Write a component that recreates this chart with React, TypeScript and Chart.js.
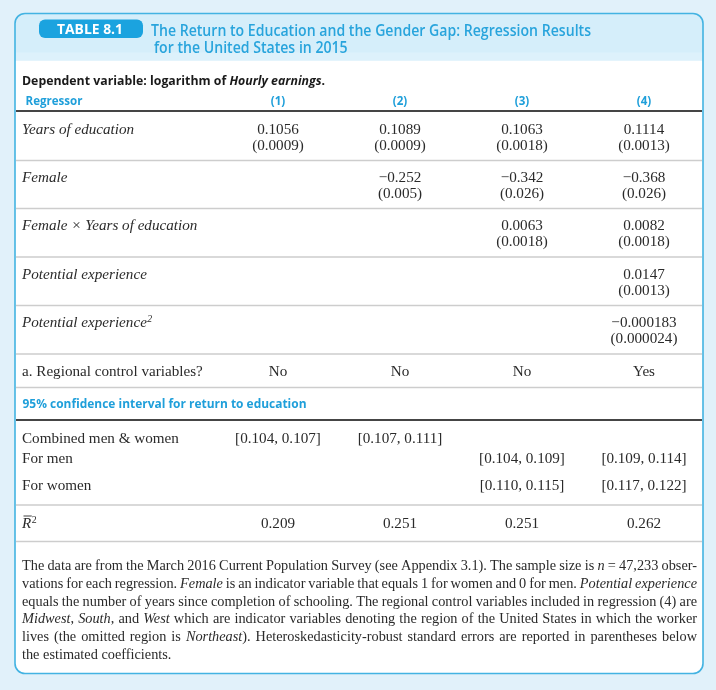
import { useEffect, useRef } from 'react';
import { Chart, registerables } from 'chart.js';

Chart.register(...registerables);

// ---------------- data ----------------
const tableNumber = 'TABLE 8.1';
const titleLines = [
  'The Return to Education and the Gender Gap: Regression Results',
  'for the United States in 2015',
];
const dependentPrefix = 'Dependent variable: logarithm of ';
const dependentItalic = 'Hourly earnings';
const regressorHeader = 'Regressor';
const columns = ['(1)', '(2)', '(3)', '(4)'];
const regressors = [
  'Years of education',
  'Female',
  'Female \u00d7 Years of education',
  'Potential experience',
  'Potential experience',
];
const regressorSuperscripts = ['', '', '', '', '2'];

const coefYearsEducation = [0.1056, 0.1089, 0.1063, 0.1114];
const seYearsEducation = [0.0009, 0.0009, 0.0018, 0.0013];
const coefFemale = [null, -0.252, -0.342, -0.368];
const seFemale = [null, 0.005, 0.026, 0.026];
const coefFemaleYears = [null, null, 0.0063, 0.0082];
const seFemaleYears = [null, null, 0.0018, 0.0018];
const coefPotentialExp = [null, null, null, 0.0147];
const sePotentialExp = [null, null, null, 0.0013];
const coefPotentialExp2 = [null, null, null, -0.000183];
const sePotentialExp2 = [null, null, null, 0.000024];
const rowDecimals = [4, 3, 4, 4, 6];

const regionalLabel = 'a. Regional control variables?';
const regionalControls = ['No', 'No', 'No', 'Yes'];

const ciHeader = '95% confidence interval for return to education';
const ciLabels = ['Combined men & women', 'For men', 'For women'];
const ciCombined = [[0.104, 0.107], [0.107, 0.111], null, null];
const ciMen = [null, null, [0.104, 0.109], [0.109, 0.114]];
const ciWomen = [null, null, [0.110, 0.115], [0.117, 0.122]];

const adjR2 = [0.209, 0.251, 0.251, 0.262];

const footnoteLines = [
  'The data are from the March 2016 Current Population Survey (see Appendix 3.1). The sample size is *n* = 47,233 obser-',
  'vations for each regression. *Female* is an indicator variable that equals 1 for women and 0 for men. *Potential experience*',
  'equals the number of years since completion of schooling. The regional control variables included in regression (4) are',
  '*Midwest*, *South*, and *West* which are indicator variables denoting the region of the United States in which the worker',
  'lives (the omitted region is *Northeast*). Heteroskedasticity-robust standard errors are reported in parentheses below',
  'the estimated coefficients.',
];

// ---------------- layout / style ----------------
const W = 716;
const H = 690;
const BOX = { left: 15, right: 703, top: 13.5, bottom: 673.5, radius: 10 };
const HEADER_BOTTOM = 60.5;
const COL_FIRST = 278;
const COL_LAST = 644;
const LABEL_X = 22;
const ROW = {
  title: [35.5, 52.5],
  pill: 34,
  dependent: 84.5,
  colHeader: 104.5,
  coef: [129.5, 177.5, 225.5, 274, 322.5],
  seGap: 16,
  regional: 371.5,
  ciHeader: 408,
  ci: [438, 458.5, 485.5],
  r2: 523,
  footTop: 565.5,
  footGap: 17.8,
};
const THIN_RULES = [160.5, 208.5, 257, 305.5, 354, 387.5, 505, 541.5];
const THICK_RULES = [111, 420];
const FOOT_RIGHT = 697;

const C = {
  page: '#e1f1fa',
  header: '#d5eefa',
  border: '#43b3e2',
  pill: '#1ba3df',
  title: '#28a4dc',
  blue: '#1f9fda',
  text: '#2a2a2a',
  thin: '#cdcdcd',
  thick: '#454545',
};
const SERIF = '"Liberation Serif", "Times New Roman", serif';
const SANS = '"Open Sans", Lato, sans-serif';
const BASE_SHIFT = 4.5;

const fmtSigned = (v: number, d: number) => (v < 0 ? '\u2212' : '') + Math.abs(v).toFixed(d);
const fmtCI = (p: number[]) => `[${p[0].toFixed(3)}, ${p[1].toFixed(3)}]`;

function buildDatasets() {
  const ds: any[] = [];
  const add = (label: string, values: any[], y: number, fmt: (v: any) => string, kind = 'serif') => {
    const idx = values.map((v, i) => (v == null ? -1 : i)).filter((i) => i >= 0);
    ds.push({
      label,
      data: idx.map((i) => ({ x: columns[i], y })),
      cellTexts: idx.map((i) => fmt(values[i])),
      cellKind: kind,
      pointRadius: 0,
      showLine: false,
    });
  };
  const coefRows = [
    [coefYearsEducation, seYearsEducation],
    [coefFemale, seFemale],
    [coefFemaleYears, seFemaleYears],
    [coefPotentialExp, sePotentialExp],
    [coefPotentialExp2, sePotentialExp2],
  ];
  coefRows.forEach(([coef, se], r) => {
    const d = rowDecimals[r];
    add(regressors[r] + ' coef', coef, ROW.coef[r], (v) => fmtSigned(v, d));
    add(regressors[r] + ' se', se, ROW.coef[r] + ROW.seGap, (v) => '(' + v.toFixed(d) + ')');
  });
  add('Regional controls', regionalControls, ROW.regional, (v) => v);
  add('CI combined', ciCombined, ROW.ci[0], fmtCI);
  add('CI men', ciMen, ROW.ci[1], fmtCI);
  add('CI women', ciWomen, ROW.ci[2], fmtCI);
  add('Adjusted R2', adjR2, ROW.r2, (v) => v.toFixed(3));
  add('Columns', columns, ROW.colHeader, (v) => v, 'head');
  return ds;
}

function fitSize(ctx: CanvasRenderingContext2D, text: string, style: string, family: string, target: number) {
  ctx.font = `${style} 20px ${family}`;
  const w = ctx.measureText(text).width;
  return (20 * target) / w;
}

// draw runs of sans text at a given size, squeezed horizontally to a target width
function drawSqueezed(
  ctx: CanvasRenderingContext2D,
  runs: { text: string; font: string }[],
  x: number,
  y: number,
  target: number,
  align: 'left' | 'center' = 'left'
) {
  let total = 0;
  const ws = runs.map((r) => {
    ctx.font = r.font;
    const w = ctx.measureText(r.text).width;
    total += w;
    return w;
  });
  const s = target / total;
  ctx.save();
  ctx.textAlign = 'left';
  const x0 = align === 'center' ? x - target / 2 : x;
  ctx.translate(x0, y);
  ctx.scale(s, 1);
  let cx = 0;
  runs.forEach((r, i) => {
    ctx.font = r.font;
    ctx.fillText(r.text, cx, 0);
    cx += ws[i];
  });
  ctx.restore();
}

function parseLine(line: string) {
  const words: { text: string; italic: boolean }[][] = [];
  let italic = false;
  let cur: { text: string; italic: boolean }[] = [];
  let run = '';
  const flush = () => {
    if (run) cur.push({ text: run, italic });
    run = '';
  };
  for (const ch of line) {
    if (ch === '*') {
      flush();
      italic = !italic;
    } else if (ch === ' ') {
      flush();
      if (cur.length) words.push(cur);
      cur = [];
    } else run += ch;
  }
  flush();
  if (cur.length) words.push(cur);
  return words;
}

const tablePlugin = {
  id: 'tablePlugin',
  beforeDraw(chart: any) {
    const ctx: CanvasRenderingContext2D = chart.ctx;
    ctx.save();
    ctx.fillStyle = C.page;
    ctx.fillRect(0, 0, W, H);
    const bw = BOX.right - BOX.left;
    const bh = BOX.bottom - BOX.top;
    ctx.beginPath();
    ctx.roundRect(BOX.left, BOX.top, bw, bh, BOX.radius);
    ctx.fillStyle = '#ffffff';
    ctx.fill();
    ctx.save();
    ctx.clip();
    ctx.fillStyle = C.header;
    ctx.fillRect(BOX.left, BOX.top, bw, HEADER_BOTTOM - BOX.top);
    ctx.fillStyle = '#ddf1fb';
    ctx.fillRect(BOX.left, HEADER_BOTTOM - 8, bw, 8);
    ctx.restore();
    ctx.lineWidth = 1.6;
    ctx.strokeStyle = C.border;
    ctx.stroke();

    // rules
    const ys = chart.scales.y;
    ctx.lineWidth = 1.5;
    ctx.strokeStyle = C.thin;
    THIN_RULES.forEach((v) => {
      const y = ys.getPixelForValue(v);
      ctx.beginPath();
      ctx.moveTo(BOX.left + 1, y);
      ctx.lineTo(BOX.right - 1, y);
      ctx.stroke();
    });
    ctx.lineWidth = 2;
    ctx.strokeStyle = C.thick;
    THICK_RULES.forEach((v) => {
      const y = ys.getPixelForValue(v);
      ctx.beginPath();
      ctx.moveTo(BOX.left + 1, y);
      ctx.lineTo(BOX.right - 1, y);
      ctx.stroke();
    });

    // pill
    ctx.beginPath();
    ctx.roundRect(39, 19.5, 104, 18.5, 6);
    ctx.fillStyle = C.pill;
    ctx.fill();
    ctx.fillStyle = '#ffffff';
    ctx.textBaseline = 'alphabetic';
    drawSqueezed(ctx, [{ text: tableNumber, font: `bold 14.4px ${SANS}` }], 90, ys.getPixelForValue(ROW.pill), 66, 'center');

    // title
    ctx.fillStyle = C.title;
    const tf = `600 15.6px ${SANS}`;
    drawSqueezed(ctx, [{ text: titleLines[0], font: tf }], 151, ys.getPixelForValue(ROW.title[0]), 440);
    ctx.font = tf;
    const s0 = 440 / ctx.measureText(titleLines[0]).width;
    const w1 = ctx.measureText(titleLines[1]).width * s0;
    drawSqueezed(ctx, [{ text: titleLines[1], font: tf }], 154, ys.getPixelForValue(ROW.title[1]), w1);
    ctx.restore();
  },
  afterDatasetsDraw(chart: any) {
    const ctx: CanvasRenderingContext2D = chart.ctx;
    const ys = chart.scales.y;
    ctx.save();
    const serifSize = fitSize(ctx, regionalLabel, '', SERIF, 181);
    const headFont = `bold 12.8px ${SANS}`;
    ctx.font = headFont;
    const headScale = 57 / ctx.measureText(regressorHeader).width;
    ctx.textBaseline = 'alphabetic';

    // cells through scales
    chart.data.datasets.forEach((ds: any, i: number) => {
      const meta = chart.getDatasetMeta(i);
      meta.data.forEach((pt: any, j: number) => {
        if (ds.cellKind === 'head') {
          ctx.fillStyle = C.blue;
          ctx.font = headFont;
          const w = ctx.measureText(ds.cellTexts[j]).width * headScale;
          drawSqueezed(ctx, [{ text: ds.cellTexts[j], font: headFont }], pt.x, pt.y, w, 'center');
        } else {
          ctx.font = `${serifSize}px ${SERIF}`;
          ctx.fillStyle = C.text;
          ctx.textAlign = 'center';
          ctx.fillText(ds.cellTexts[j], pt.x, pt.y + BASE_SHIFT);
        }
      });
    });

    // left labels
    ctx.textAlign = 'left';
    ctx.fillStyle = C.text;
    regressors.forEach((lab, r) => {
      const y = ys.getPixelForValue(ROW.coef[r]) + BASE_SHIFT;
      ctx.font = `italic ${serifSize}px ${SERIF}`;
      ctx.fillText(lab, LABEL_X, y);
      if (regressorSuperscripts[r]) {
        const w = ctx.measureText(lab).width;
        ctx.font = `italic ${serifSize * 0.65}px ${SERIF}`;
        ctx.fillText(regressorSuperscripts[r], LABEL_X + w + 0.5, y - 5);
      }
    });
    ctx.font = `${serifSize}px ${SERIF}`;
    ctx.fillText(regionalLabel, LABEL_X, ys.getPixelForValue(ROW.regional) + BASE_SHIFT);
    ciLabels.forEach((lab, r) => {
      ctx.fillText(lab, LABEL_X, ys.getPixelForValue(ROW.ci[r]) + BASE_SHIFT);
    });
    // R-bar squared
    const ry = ys.getPixelForValue(ROW.r2) + BASE_SHIFT;
    ctx.font = `italic ${serifSize}px ${SERIF}`;
    ctx.fillText('R', LABEL_X, ry);
    const rw = ctx.measureText('R').width;
    ctx.font = `${serifSize * 0.65}px ${SERIF}`;
    ctx.fillText('2', LABEL_X + rw + 0.5, ry - 5);
    ctx.strokeStyle = C.text;
    ctx.lineWidth = 0.9;
    ctx.beginPath();
    ctx.moveTo(LABEL_X + 1.5, ry - 11.5);
    ctx.lineTo(LABEL_X + rw + 0.5, ry - 11.5);
    ctx.stroke();

    // dependent variable line
    ctx.fillStyle = '#1a1a1a';
    const df = `bold 13.2px ${SANS}`;
    const dfi = `italic bold 13.2px ${SANS}`;
    drawSqueezed(
      ctx,
      [
        { text: dependentPrefix, font: df },
        { text: dependentItalic, font: dfi },
        { text: '.', font: df },
      ],
      LABEL_X,
      ys.getPixelForValue(ROW.dependent),
      303
    );

    // blue headers
    ctx.fillStyle = C.blue;
    drawSqueezed(ctx, [{ text: regressorHeader, font: headFont }], 25.5, ys.getPixelForValue(ROW.colHeader), 57);
    drawSqueezed(ctx, [{ text: ciHeader, font: headFont }], LABEL_X + 0.5, ys.getPixelForValue(ROW.ciHeader), 284);

    // footnote (justified)
    ctx.fillStyle = C.text;
    const fontFor = (it: boolean, size: number) => `${it ? 'italic ' : ''}${size}px ${SERIF}`;
    const parsed = footnoteLines.map(parseLine);
    // font size: the most packed line fits its natural width (with normal spaces) into the column
    let fSize = 100;
    parsed.slice(0, -1).forEach((words) => {
      let tw = 0;
      words.forEach((w) =>
        w.forEach((r) => {
          ctx.font = fontFor(r.italic, 20);
          tw += ctx.measureText(r.text).width;
        })
      );
      ctx.font = fontFor(false, 20);
      tw += ctx.measureText(' ').width * 0.8 * (words.length - 1);
      fSize = Math.min(fSize, (20 * (FOOT_RIGHT - LABEL_X)) / tw);
    });
    parsed.forEach((words, li) => {
      const widths = words.map((w) =>
        w.reduce((s, r) => {
          ctx.font = fontFor(r.italic, fSize);
          return s + ctx.measureText(r.text).width;
        }, 0)
      );
      const total = widths.reduce((a, b) => a + b, 0);
      ctx.font = fontFor(false, fSize);
      const space = ctx.measureText(' ').width;
      const last = li === parsed.length - 1;
      const gap = last ? space : (FOOT_RIGHT - LABEL_X - total) / (words.length - 1);
      let fx = LABEL_X;
      const fy = ys.getPixelForValue(ROW.footTop + li * ROW.footGap) + BASE_SHIFT;
      words.forEach((w, wi) => {
        let rx = fx;
        w.forEach((r) => {
          ctx.font = fontFor(r.italic, fSize);
          ctx.fillText(r.text, rx, fy);
          rx += ctx.measureText(r.text).width;
        });
        fx += widths[wi] + gap;
      });
    });
    ctx.restore();
  },
};

export default function App() {
  const ref = useRef<HTMLCanvasElement | null>(null);
  useEffect(() => {
    document.body.style.margin = '0';
    document.body.style.background = C.page;
    const canvas = ref.current;
    if (!canvas) return;
    const chart = new Chart(canvas, {
      type: 'scatter',
      data: { labels: columns, datasets: buildDatasets() as any },
      options: {
        animation: false,
        responsive: false,
        maintainAspectRatio: false,
        devicePixelRatio: 1,
        events: [],
        layout: { padding: { left: COL_FIRST, right: W - COL_LAST, top: 0, bottom: 0 } },
        scales: {
          x: { type: 'category', labels: columns, display: false, offset: false },
          y: { type: 'linear', min: 0, max: H, reverse: true, display: false },
        },
        plugins: { legend: { display: false }, tooltip: { enabled: false }, title: { display: false } },
      },
      plugins: [tablePlugin],
    });
    return () => chart.destroy();
  }, []);
  return <canvas ref={ref} width={W} height={H} style={{ display: 'block', width: W, height: H }} />;
}
